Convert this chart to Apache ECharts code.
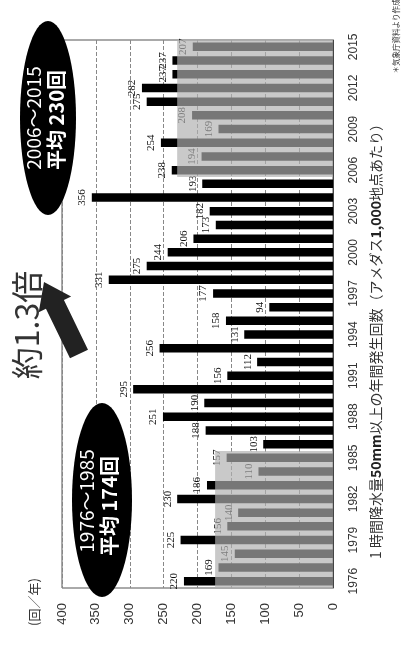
<!DOCTYPE html>
<html>
<head>
<meta charset="utf-8">
<script src="https://cdn.jsdelivr.net/npm/echarts@6/dist/echarts.min.js"></script>
<style>
html, body { margin: 0; padding: 0; background: #fff; }
#chart { width: 401px; height: 648px; }
</style>
</head>
<body>
<div id="chart"></div>
<script>
// 年（カテゴリ）
const years = [
  '1976', '1977', '1978', '1979', '1980', '1981', '1982', '1983', '1984', '1985',
  '1986', '1987', '1988', '1989', '1990', '1991', '1992', '1993', '1994', '1995',
  '1996', '1997', '1998', '1999', '2000', '2001', '2002', '2003', '2004', '2005',
  '2006', '2007', '2008', '2009', '2010', '2011', '2012', '2013', '2014', '2015'
]
// 1時間降水量50mm以上の年間発生回数（アメダス1,000地点あたり）
const counts = [
  220, 169, 145, 225, 156, 140, 230, 186, 110, 157,
  103, 188, 251, 190, 295, 156, 112, 256, 131, 158,
  94, 177, 331, 275, 244, 206, 173, 182, 356, 193,
  238, 194, 254, 169, 208, 275, 282, 237, 237, 207
]
// 期間平均
const periodNames = ['1976～1985', '2006～2015']
const periodStart = ['1976', '2006']
const periodEnd = ['1985', '2015']
const periodAverages = [174, 230]
const ratioText = '約1.3倍'

const jp = '"Noto Sans CJK JP", "Noto Sans", sans-serif'

const myChart = echarts.init(document.getElementById('chart'))

// 平均の帯（半透明グレー）
const bandData = periodAverages.map((avg, i) => [avg, years.indexOf(periodStart[i]), years.indexOf(periodEnd[i])])

// 矢印（飾り）
function arrowPoints (tail, tip, shaftHalf, headHalf, headLen) {
  const dx = tip[0] - tail[0]
  const dy = tip[1] - tail[1]
  const len = Math.sqrt(dx * dx + dy * dy)
  const ux = dx / len
  const uy = dy / len
  const nx = -uy
  const ny = ux
  const bx = tip[0] - ux * headLen
  const by = tip[1] - uy * headLen
  return [
    [tail[0] + nx * shaftHalf, tail[1] + ny * shaftHalf],
    [bx + nx * shaftHalf, by + ny * shaftHalf],
    [bx + nx * headHalf, by + ny * headHalf],
    tip,
    [bx - nx * headHalf, by - ny * headHalf],
    [bx - nx * shaftHalf, by - ny * shaftHalf],
    [tail[0] - nx * shaftHalf, tail[1] - ny * shaftHalf]
  ]
}

function vText (x, y, text, size, color, weight) {
  return {
    type: 'text',
    x: x,
    y: y,
    rotation: Math.PI / 2,
    z: 20,
    style: {
      text: text,
      fill: color,
      fontSize: size,
      fontWeight: weight || 'normal',
      fontFamily: jp,
      align: 'center',
      verticalAlign: 'middle'
    }
  }
}

myChart.setOption({
  animation: false,
  grid: {
    left: 62,
    right: 68,
    top: 40,
    bottom: 60,
    show: true,
    borderColor: '#555',
    borderWidth: 1
  },
  xAxis: {
    type: 'value',
    inverse: true,
    min: 0,
    max: 400,
    interval: 50,
    axisLine: { show: false },
    axisTick: { show: false },
    splitLine: {
      lineStyle: { color: '#888', type: 'dashed', width: 1 }
    },
    axisLabel: {
      rotate: 90,
      margin: 15,
      fontSize: 13,
      color: '#333',
      fontFamily: '"Liberation Sans", sans-serif'
    }
  },
  yAxis: {
    type: 'category',
    data: years,
    position: 'right',
    axisLine: { lineStyle: { color: '#444' } },
    axisTick: { inside: true, interval: 0, length: 3, lineStyle: { color: '#444' } },
    axisLabel: {
      interval: 2,
      rotate: 90,
      margin: 15,
      fontSize: 12,
      color: '#333',
      fontFamily: '"Liberation Sans", sans-serif'
    }
  },
  series: [
    {
      type: 'bar',
      data: counts,
      barWidth: '62%',
      z: 2,
      itemStyle: { color: '#000' },
      label: {
        show: true,
        position: 'left',
        rotate: 90,
        align: 'center',
        verticalAlign: 'bottom',
        distance: 4,
        fontSize: 11,
        color: '#111',
        fontFamily: '"Liberation Serif", serif'
      }
    },
    {
      type: 'custom',
      data: bandData,
      encode: { x: 0, y: 1 },
      z: 5,
      silent: true,
      renderItem: function (params, api) {
        const avg = api.value(0)
        const p0 = api.coord([0, api.value(1)])
        const p1 = api.coord([avg, api.value(2)])
        const band = api.size([0, 1])[1]
        return {
          type: 'rect',
          shape: {
            x: p1[0],
            y: p1[1] - band / 2,
            width: p0[0] - p1[0],
            height: p0[1] - p1[1] + band
          },
          style: { fill: 'rgba(175,175,175,0.68)' }
        }
      }
    }
  ],
  graphic: [
    { type: 'ellipse', z: 15, shape: { cx: 48, cy: 118, rx: 28, ry: 97 }, style: { fill: '#000' } },
    vText(34, 118, periodNames[1], 19, '#fff'),
    vText(56, 120, '平均 ' + periodAverages[1] + '回', 20, '#fff', 'bold'),
    { type: 'ellipse', z: 15, shape: { cx: 102, cy: 500, rx: 30, ry: 97 }, style: { fill: '#000' } },
    vText(87, 501, periodNames[0], 19, '#fff'),
    vText(109, 506, '平均 ' + periodAverages[0] + '回', 20, '#fff', 'bold'),
    vText(27, 325, ratioText, 32, '#333'),
    {
      type: 'polygon',
      z: 15,
      shape: { points: arrowPoints([79, 354], [44, 282], 10, 18, 25) },
      style: { fill: '#222' }
    },
    vText(34, 602, '(回／年)', 13, '#333'),
    {
      type: 'text',
      x: 376,
      y: 338,
      rotation: Math.PI / 2,
      z: 20,
      style: {
        text: '{n|1 時間降水量}{b|50mm}{n|以上の年間発生回数（アメダス}{b|1,000}{n|地点あたり）}',
        align: 'center',
        verticalAlign: 'middle',
        rich: {
          n: { fontSize: 14, fontFamily: jp, fill: '#333' },
          b: { fontSize: 14, fontFamily: jp, fill: '#222', fontWeight: 'bold' }
        }
      }
    },
    vText(396, 36, '＊気象庁資料より作成', 7.5, '#333')
  ]
})
</script>
</body>
</html>
